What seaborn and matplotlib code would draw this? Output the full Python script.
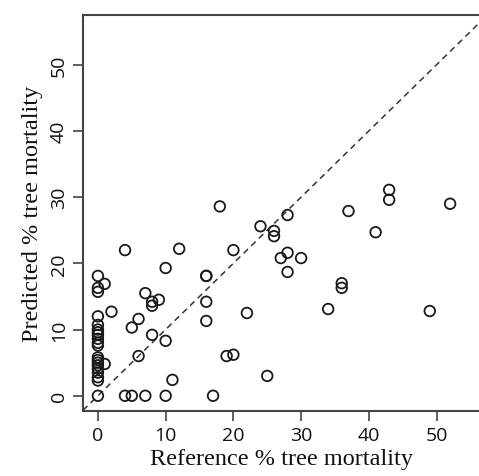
import numpy as np
import pandas as pd
import seaborn as sns
import matplotlib.pyplot as plt

reference = [
    0, 0, 0, 0, 0, 0, 0, 0, 0, 0, 0,
    0, 0, 0, 0, 0, 0, 0, 0, 0,
    1, 2, 1, 4, 5, 6, 6, 7, 8, 8, 9, 8, 10, 11,
    4, 5, 7, 10, 17,
    12, 10, 16, 16, 16, 16, 18, 20, 22, 19, 20, 25,
    24, 28, 26, 26, 28, 27, 30, 28, 34,
    43, 43, 37, 52, 41, 36, 36, 49,
]
predicted = [
    18.1, 16.3, 15.7, 12.0, 10.7, 10.0, 9.6, 9.2, 8.6, 8.0, 7.6,
    5.8, 5.4, 5.0, 4.6, 4.1, 3.5, 2.8, 2.3, 0.0,
    16.9, 12.7, 4.8, 22.0, 10.3, 11.6, 6.0, 15.5, 14.2, 13.6, 14.5, 9.2, 8.3, 2.4,
    0.0, 0.0, 0.0, 0.0, 0.0,
    22.2, 19.3, 18.1, 14.2, 11.3, 18.1, 28.6, 22.0, 12.5, 6.0, 6.2, 3.0,
    25.6, 27.3, 24.9, 24.1, 21.6, 20.8, 20.8, 18.7, 13.1,
    31.1, 29.6, 27.9, 29.0, 24.7, 17.0, 16.3, 12.8,
]

df = pd.DataFrame({"reference": reference, "predicted": predicted})

sns.set_style("ticks")
plt.rcParams["font.family"] = ["Open Sans", "DejaVu Sans"]

fig = plt.figure(figsize=(4.79, 4.77), dpi=100)
ax = fig.add_axes([0.1733, 0.1363, 0.83, 0.830])

# 1:1 line
ax.axline((0, 0), slope=1, color="#333333", linestyle=(0, (4, 3)), linewidth=1.1, zorder=1)

sns.scatterplot(data=df, x="reference", y="predicted", ax=ax, marker="o",
                facecolor="none", edgecolor="#1a1a1a", s=58, linewidth=1.3, zorder=2)

ax.set_xlim(-2.2, 56.5)
ax.set_ylim(-2.3, 57.5)
ax.set_xticks([0, 10, 20, 30, 40, 50])
ax.set_yticks([0, 10, 20, 30, 40, 50])

ax.tick_params(axis="both", direction="out", length=7, width=1.2,
               color="#444444", labelsize=14, labelcolor="#111111", pad=4)
for lab in ax.get_yticklabels():
    lab.set_rotation(90)
    lab.set_va("center")

for side in ["left", "bottom", "top"]:
    ax.spines[side].set_color("#444444")
    ax.spines[side].set_linewidth(1.5)
ax.spines["right"].set_visible(False)

ax.set_xlabel("Reference % tree mortality", family="Liberation Serif", fontsize=17.5,
              color="#111111", labelpad=3)
ax.set_ylabel("Predicted % tree mortality", family="Liberation Serif", fontsize=17.5,
              color="#111111", labelpad=5)

fig.savefig("out.png", dpi=100)
